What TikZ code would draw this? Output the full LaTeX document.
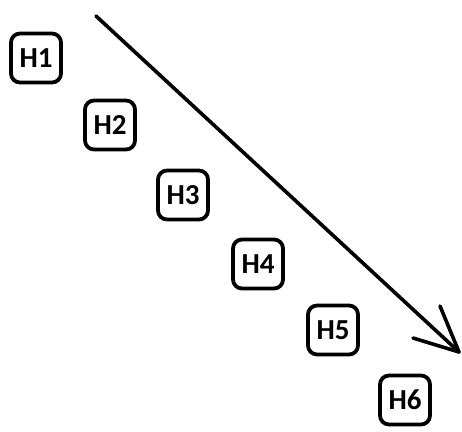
\documentclass[tikz,border=0pt]{standalone}
\usepackage{fontspec}
\setmainfont{Carlito}
\begin{document}
\begin{tikzpicture}[x=1pt,y=-1pt,
  hbox/.style={draw=black,line width=3.8pt,rounded corners=9pt,minimum width=50pt,minimum height=49pt,inner sep=0pt,font=\fontsize{29}{29}\selectfont\bfseries,fill=white},
  stroke/.style={line width=3.6pt,line cap=round,line join=round}]
\useasboundingbox (0,0) rectangle (462,431);
\node[hbox] (h1) at (36,58) {H1};
\node[hbox] (h2) at (110,125) {H2};
\node[hbox] (h3) at (183,195) {H3};
\node[hbox] (h4) at (258,264) {H4};
\node[hbox] (h5) at (333,330) {H5};
\node[hbox] (h6) at (405,400) {H6};
\coordinate (s) at (96,16);
\coordinate (t) at (459,352);
\coordinate (w1) at (413,338);
\coordinate (w2) at (440,306);
\draw[stroke] (s) -- (t);
\draw[stroke] (w1) -- (t) -- (w2);
\end{tikzpicture}
\end{document}
